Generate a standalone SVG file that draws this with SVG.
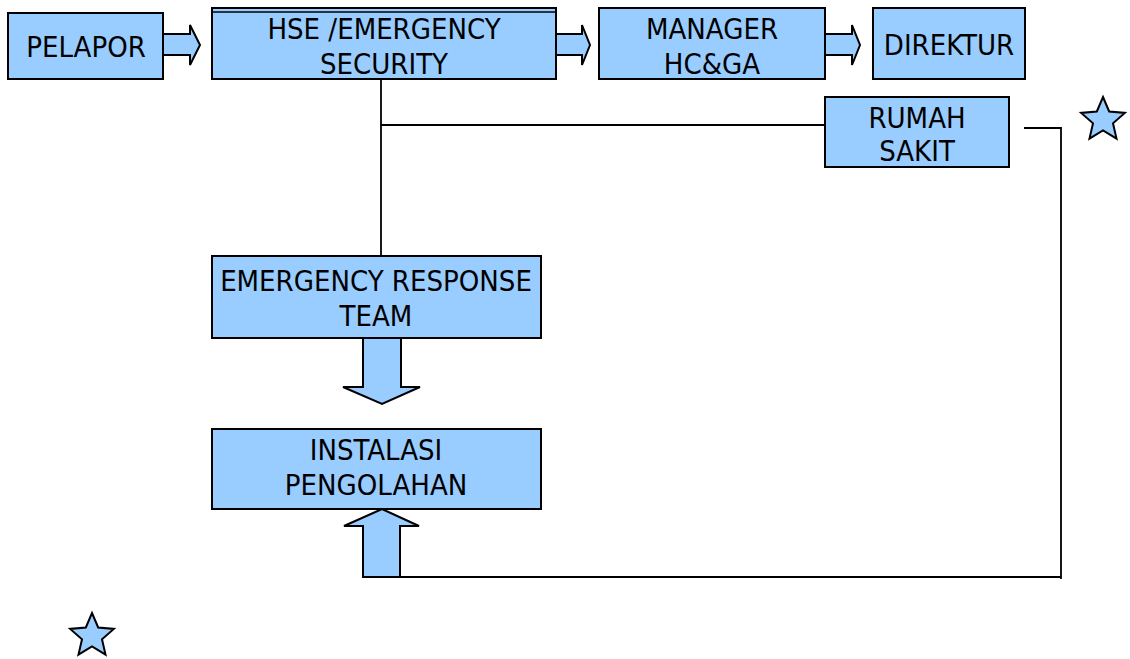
<svg xmlns="http://www.w3.org/2000/svg" width="1130" height="659" viewBox="0 0 1130 659">
<style>
.box{fill:#99CCFF;stroke:#000;stroke-width:2}
.arr{fill:#99CCFF;stroke:#000;stroke-width:2;stroke-linejoin:miter}
.ln{fill:none;stroke:#000;stroke-width:1.8}
text{font-family:"DejaVu Sans Condensed","DejaVu Sans",sans-serif;font-stretch:condensed;font-size:29px;fill:#000;text-anchor:middle}
</style>
<defs>
<path id="star" d="M0,-23 L6.17,-8.5 L21.87,-7.11 L9.99,3.25 L13.52,18.61 L0,10.5 L-13.52,18.61 L-9.99,3.25 L-21.87,-7.11 L-6.17,-8.5 Z" fill="#99CCFF" stroke="#000" stroke-width="2" stroke-linejoin="miter"/>
</defs>
<rect width="1130" height="659" fill="#fff"/>
<g id="connectors">
<polyline class="ln" points="381,79 381,260"/>
<polyline class="ln" points="381,125 825,125"/>
<polyline class="ln" points="1024,128 1061,128 1061,579"/>
<polyline class="ln" points="400,577 1061,577"/>
<polygon class="arr" points="163,34 190,34 190,25 200,45 190,65 190,55 163,55"/>
<polygon class="arr" points="556,34 582,34 582,25 590,45 582,65 582,55 556,55"/>
<polygon class="arr" points="825,34 852,34 852,25 860,45 852,65 852,55 825,55"/>
<polygon class="arr" points="363,338 401,338 401,387 420,387 382,404 343,387 363,387"/>
<polygon class="arr" points="363,577 363,526 344,526 382,509 419,526 400,526 400,577"/>
</g>
<g id="pelapor">
<rect class="box" x="8" y="13" width="155" height="66"/>
<text x="86" y="57">PELAPOR</text>
</g>
<g id="hse">
<rect class="box" x="212" y="8" width="344" height="71"/>
<line x1="212" y1="12" x2="556" y2="12" stroke="#000" stroke-width="1.5"/>
<text x="384" y="39">HSE /EMERGENCY</text>
<text x="384" y="74">SECURITY</text>
</g>
<g id="manager">
<rect class="box" x="599" y="8" width="226" height="71"/>
<text x="712" y="39">MANAGER</text>
<text x="712" y="74">HC&amp;GA</text>
</g>
<g id="direktur">
<rect class="box" x="873" y="8" width="152" height="71"/>
<text x="949" y="55">DIREKTUR</text>
</g>
<g id="rumah-sakit">
<rect class="box" x="825" y="97" width="184" height="70"/>
<text x="917" y="128">RUMAH</text>
<text x="917" y="161">SAKIT</text>
</g>
<g id="ert">
<rect class="box" x="212" y="256" width="329" height="82"/>
<text x="376" y="291">EMERGENCY RESPONSE</text>
<text x="376" y="326">TEAM</text>
</g>
<g id="instalasi">
<rect class="box" x="212" y="429" width="329" height="80"/>
<text x="376" y="460">INSTALASI</text>
<text x="376" y="495">PENGOLAHAN</text>
</g>
<g id="star-top"><use href="#star" transform="translate(1103,120)"/></g>
<g id="star-bottom"><use href="#star" transform="translate(92,636)"/></g>
</svg>
